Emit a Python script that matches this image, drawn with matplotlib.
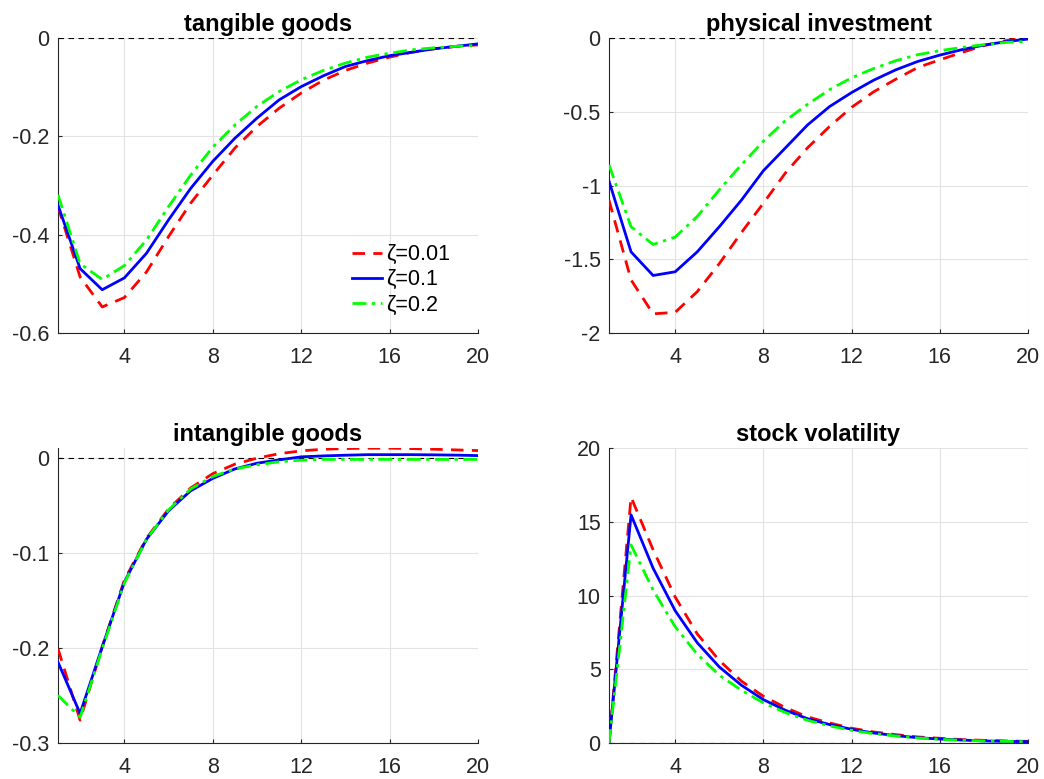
import matplotlib
matplotlib.use("Agg")
import matplotlib.pyplot as plt

plt.rcParams['font.family'] = ['Liberation Sans', 'DejaVu Sans']
plt.rcParams['axes.unicode_minus'] = False

horizon = list(range(1, 21))
labels = ["ζ=0.01", "ζ=0.1", "ζ=0.2"]

tangible_001 = [-0.343, -0.486, -0.547, -0.528, -0.476, -0.404, -0.336, -0.279, -0.224, -0.180,
                -0.143, -0.112, -0.086, -0.066, -0.051, -0.039, -0.029, -0.022, -0.017, -0.014]
tangible_01 = [-0.340, -0.469, -0.512, -0.488, -0.438, -0.370, -0.306, -0.251, -0.204, -0.163,
               -0.126, -0.099, -0.077, -0.058, -0.046, -0.036, -0.029, -0.022, -0.017, -0.012]
tangible_02 = [-0.319, -0.459, -0.491, -0.463, -0.411, -0.343, -0.279, -0.222, -0.177, -0.139,
               -0.109, -0.085, -0.066, -0.051, -0.039, -0.031, -0.024, -0.020, -0.017, -0.015]

invest_001 = [-1.10, -1.64, -1.87, -1.86, -1.72, -1.53, -1.32, -1.12, -0.915, -0.745,
              -0.600, -0.470, -0.365, -0.280, -0.200, -0.148, -0.098, -0.052, -0.018, 0.004]
invest_01 = [-0.97, -1.45, -1.61, -1.585, -1.45, -1.28, -1.10, -0.90, -0.745, -0.590,
             -0.465, -0.370, -0.286, -0.216, -0.159, -0.116, -0.079, -0.048, -0.025, -0.007]
invest_02 = [-0.86, -1.28, -1.40, -1.35, -1.21, -1.03, -0.86, -0.70, -0.56, -0.45,
             -0.35, -0.27, -0.207, -0.154, -0.113, -0.086, -0.064, -0.045, -0.030, -0.023]

intang_001 = [-0.201, -0.276, -0.199, -0.129, -0.085, -0.054, -0.032, -0.017, -0.007, -0.0007,
              0.004, 0.007, 0.0087, 0.0094, 0.0098, 0.0098, 0.0094, 0.0087, 0.008, 0.0073]
intang_01 = [-0.215, -0.269, -0.199, -0.131, -0.086, -0.056, -0.035, -0.022, -0.012, -0.006,
             -0.0025, 0.0007, 0.0017, 0.0024, 0.003, 0.003, 0.003, 0.0028, 0.0025, 0.002]
intang_02 = [-0.250, -0.273, -0.201, -0.132, -0.086, -0.055, -0.033, -0.020, -0.012, -0.0077,
             -0.0045, -0.0028, -0.002, -0.002, -0.002, -0.002, -0.002, -0.002, -0.002, -0.002]

vol_001 = [0.0, 16.67, 13.1, 9.9, 7.4, 5.6, 4.2, 3.17, 2.4, 1.77,
           1.36, 1.0, 0.75, 0.57, 0.41, 0.32, 0.23, 0.18, 0.14, 0.11]
vol_01 = [0.0, 15.47, 11.85, 8.97, 6.8, 5.16, 3.92, 2.94, 2.22, 1.65,
          1.25, 0.93, 0.68, 0.5, 0.36, 0.27, 0.2, 0.14, 0.11, 0.09]
vol_02 = [0.0, 13.43, 10.37, 7.88, 6.02, 4.6, 3.58, 2.72, 2.06, 1.54,
          1.16, 0.86, 0.63, 0.48, 0.34, 0.25, 0.18, 0.14, 0.11, 0.09]

panels = [
    ("tangible goods", [tangible_001, tangible_01, tangible_02], (-0.6, 0.0), [-0.6, -0.4, -0.2, 0], ["-0.6", "-0.4", "-0.2", "0"]),
    ("physical investment", [invest_001, invest_01, invest_02], (-2.0, 0.0), [-2, -1.5, -1, -0.5, 0], ["-2", "-1.5", "-1", "-0.5", "0"]),
    ("intangible goods", [intang_001, intang_01, intang_02], (-0.3, 0.01), [-0.3, -0.2, -0.1, 0], ["-0.3", "-0.2", "-0.1", "0"]),
    ("stock volatility", [vol_001, vol_01, vol_02], (0, 20), [0, 5, 10, 15, 20], ["0", "5", "10", "15", "20"]),
]

# axes boxes in figure fractions (left, bottom, width, height)
W, H = 1044, 779
boxes = [
    (58 / W, 1 - 333 / H, 420 / W, 295 / H),
    (609 / W, 1 - 333 / H, 419 / W, 295 / H),
    (58 / W, 1 - 743 / H, 420 / W, 295 / H),
    (609 / W, 1 - 743 / H, 419 / W, 295 / H),
]

colors = ["#ff0000", "#0000ff", "#00ff00"]
styles = [(0, (4.5, 3)), "-", (0, (5, 2, 1.2, 2))]

fig = plt.figure(figsize=(W / 100, H / 100), dpi=100)

for i, (title, series, ylim, yticks, yticklabels) in enumerate(panels):
    ax = fig.add_axes(boxes[i])
    ax.axhline(0, color="black", linestyle=(0, (5, 4)), linewidth=0.8, zorder=1)
    for s, c, ls, lab in zip(series, colors, styles, labels):
        ax.plot(horizon, s, color=c, linestyle=ls, linewidth=2.0, label=lab, zorder=3)
    ax.set_xlim(1, 20)
    ax.set_ylim(*ylim)
    ax.set_xticks([4, 8, 12, 16, 20])
    ax.set_yticks(yticks)
    ax.set_yticklabels(yticklabels)
    ax.grid(True, color="#e3e3e3", linewidth=0.8)
    ax.set_axisbelow(True)
    for side in ["top", "right"]:
        ax.spines[side].set_visible(False)
    for side in ["left", "bottom"]:
        ax.spines[side].set_color("#262626")
        ax.spines[side].set_linewidth(0.8)
    ax.tick_params(direction="in", labelsize=15.5, colors="#262626", length=3, width=0.8)
    ax.tick_params(axis="x", pad=10)
    ax.tick_params(axis="y", pad=6)
    ax.set_title(title, fontsize=17, fontweight="bold", pad=5)
    if i == 0:
        ax.legend(loc="lower right", bbox_to_anchor=(0.96, 0.022), frameon=False, fontsize=15.5,
                  handlelength=1.4, handletextpad=0.2, labelspacing=0.2, borderpad=0)

fig.savefig("out.png", dpi=100)
